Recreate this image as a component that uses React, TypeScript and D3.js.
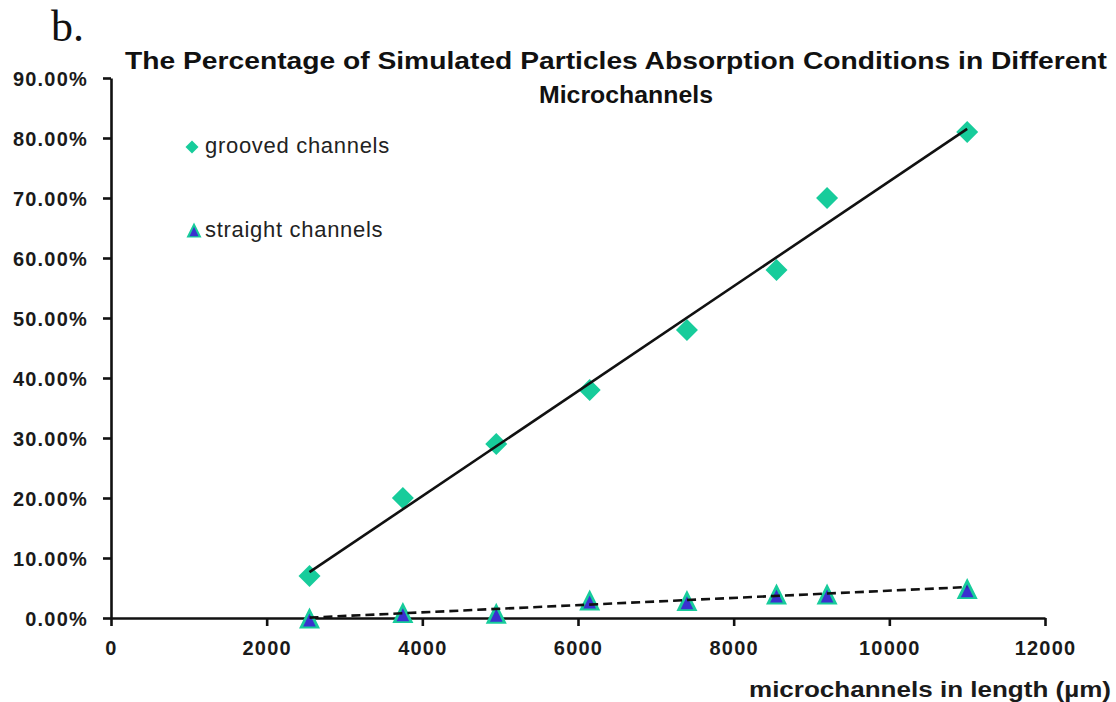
import React, { useEffect, useRef } from "react";
import * as d3 from "d3";

// Channel lengths (µm) and the share of particles absorbed in each channel type
const lengths = [2550, 3750, 4950, 6150, 7400, 8550, 9200, 11000];
const grooved = [0.07, 0.2, 0.29, 0.38, 0.48, 0.58, 0.7, 0.81];
const straight = [0.0, 0.009, 0.008, 0.03, 0.029, 0.04, 0.04, 0.049];

const xTicks = [0, 2000, 4000, 6000, 8000, 10000, 12000];
const yTicks = [0, 0.1, 0.2, 0.3, 0.4, 0.5, 0.6, 0.7, 0.8, 0.9];

const panelLabel = "b.";
const titleLines = [
  "The Percentage of Simulated Particles Absorption Conditions in Different",
  "Microchannels",
];
const seriesNames = ["grooved channels", "straight channels"];
const xTitle = "microchannels in length (\u00b5m)";

const W = 1116;
const H = 702;
const TEAL = "#17cc9b";
const BLUE = "#3b30cf";
const SANS = "Arial, 'Liberation Sans', Helvetica, sans-serif";

// Ordinary least-squares fit, returned as a function of x
function linearFit(xs: number[], ys: number[]) {
  const mx = d3.mean(xs) as number;
  const my = d3.mean(ys) as number;
  let sxy = 0;
  let sxx = 0;
  xs.forEach((v, i) => {
    sxy += (v - mx) * (ys[i] - my);
    sxx += (v - mx) * (v - mx);
  });
  const slope = sxy / sxx;
  return (v: number) => my + slope * (v - mx);
}

const x = d3.scaleLinear().domain([0, 12000]).range([111, 1045]);
const y = d3.scaleLinear().domain([0, 0.9]).range([618, 78]);

const diamond = (cx: number, cy: number, r: number) =>
  `M${cx},${cy - r}L${cx + r},${cy}L${cx},${cy + r}L${cx - r},${cy}Z`;

const triangle = (cx: number, cy: number, w: number, h: number) =>
  `M${cx},${cy - h / 2}L${cx + w / 2},${cy + h / 2}L${cx - w / 2},${cy + h / 2}Z`;

function TriangleMarker({ cx, cy, s }: { cx: number; cy: number; s: number }) {
  return (
    <g>
      <path d={triangle(cx, cy, s, s)} fill={TEAL} />
      <path d={triangle(cx, cy + s * 0.1, s * 0.6, s * 0.62)} fill={BLUE} />
    </g>
  );
}

export default function App() {
  const xAxisRef = useRef<SVGGElement>(null);
  const yAxisRef = useRef<SVGGElement>(null);

  useEffect(() => {
    const styleAxis = (g: d3.Selection<SVGGElement, unknown, null, undefined>) => {
      g.select(".domain").attr("stroke", "#111").attr("stroke-width", 2.6);
      g.selectAll(".tick line").attr("stroke", "#111").attr("stroke-width", 2.6);
      g.selectAll(".tick text")
        .attr("fill", "#1a1a1a")
        .style("font-family", SANS)
        .style("font-size", "20px")
        .style("font-weight", "bold")
        .style("letter-spacing", "1.2px");
    };

    const gx = d3.select(xAxisRef.current as SVGGElement);
    gx.call(
      d3
        .axisBottom(x)
        .tickValues(xTicks)
        .tickSize(8)
        .tickSizeOuter(0)
        .tickPadding(15)
        .tickFormat(d3.format("d") as any)
    );
    styleAxis(gx);

    const gy = d3.select(yAxisRef.current as SVGGElement);
    gy.call(
      d3
        .axisLeft(y)
        .tickValues(yTicks)
        .tickSize(8)
        .tickSizeOuter(0)
        .tickPadding(15)
        .tickFormat(d3.format(".2%") as any)
    );
    styleAxis(gy);
    gy.selectAll(".tick text").attr("dy", "0.36em");
  }, []);

  const fitG = linearFit(lengths, grooved);
  const fitS = linearFit(lengths, straight);
  const x0 = d3.min(lengths) as number;
  const x1 = d3.max(lengths) as number;

  return (
    <svg
      width={W}
      height={H}
      style={{ position: "absolute", left: 0, top: 0, background: "#fff" }}
    >
      <rect width={W} height={H} fill="#fff" />
      <text
        x={51}
        y={41}
        fontFamily="'Liberation Serif', 'Times New Roman', serif"
        fontSize={44}
        fill="#111"
      >
        {panelLabel}
      </text>

      <text
        x={616}
        y={69}
        textAnchor="middle"
        fontFamily={SANS}
        fontSize={24}
        fontWeight="bold"
        textLength={982}
        lengthAdjust="spacingAndGlyphs"
        fill="#111"
      >
        {titleLines[0]}
      </text>
      <text
        x={626}
        y={103}
        textAnchor="middle"
        fontFamily={SANS}
        fontSize={24}
        fontWeight="bold"
        textLength={174}
        lengthAdjust="spacingAndGlyphs"
        fill="#111"
      >
        {titleLines[1]}
      </text>

      <g ref={yAxisRef} transform={`translate(${x(0)},0)`} />
      <g ref={xAxisRef} transform={`translate(0,${y(0)})`} />

      {/* grooved channel markers */}
      {lengths.map((v, i) => (
        <path key={"g" + i} d={diamond(x(v), y(grooved[i]), 11)} fill={TEAL} />
      ))}
      {/* straight channel markers */}
      {lengths.map((v, i) => (
        <TriangleMarker key={"s" + i} cx={x(v)} cy={y(straight[i])} s={21} />
      ))}

      {/* linear trendlines */}
      <path
        d={
          d3
            .line<number>()
            .x((d) => x(d))
            .y((d) => y(fitG(d)))([x0, x1]) as string
        }
        stroke="#111"
        strokeWidth={2.6}
        fill="none"
      />
      <path
        d={
          d3
            .line<number>()
            .x((d) => x(d))
            .y((d) => y(fitS(d)))([x0, x1]) as string
        }
        stroke="#111"
        strokeWidth={2.6}
        strokeDasharray="9,5"
        fill="none"
      />

      {/* legend */}
      <path d={diamond(192, 147, 6.5)} fill={TEAL} />
      <text
        x={205}
        y={153}
        fontFamily={SANS}
        fontSize={22}
        letterSpacing={0.7}
        fill="#222"
      >
        {seriesNames[0]}
      </text>
      <TriangleMarker cx={194} cy={230} s={15} />
      <text
        x={205}
        y={237}
        fontFamily={SANS}
        fontSize={22}
        letterSpacing={0.7}
        fill="#222"
      >
        {seriesNames[1]}
      </text>

      <text
        x={749}
        y={697}
        fontFamily={SANS}
        fontSize={22}
        fontWeight="bold"
        textLength={362}
        lengthAdjust="spacingAndGlyphs"
        fill="#1a1a1a"
      >
        {xTitle}
      </text>
    </svg>
  );
}
